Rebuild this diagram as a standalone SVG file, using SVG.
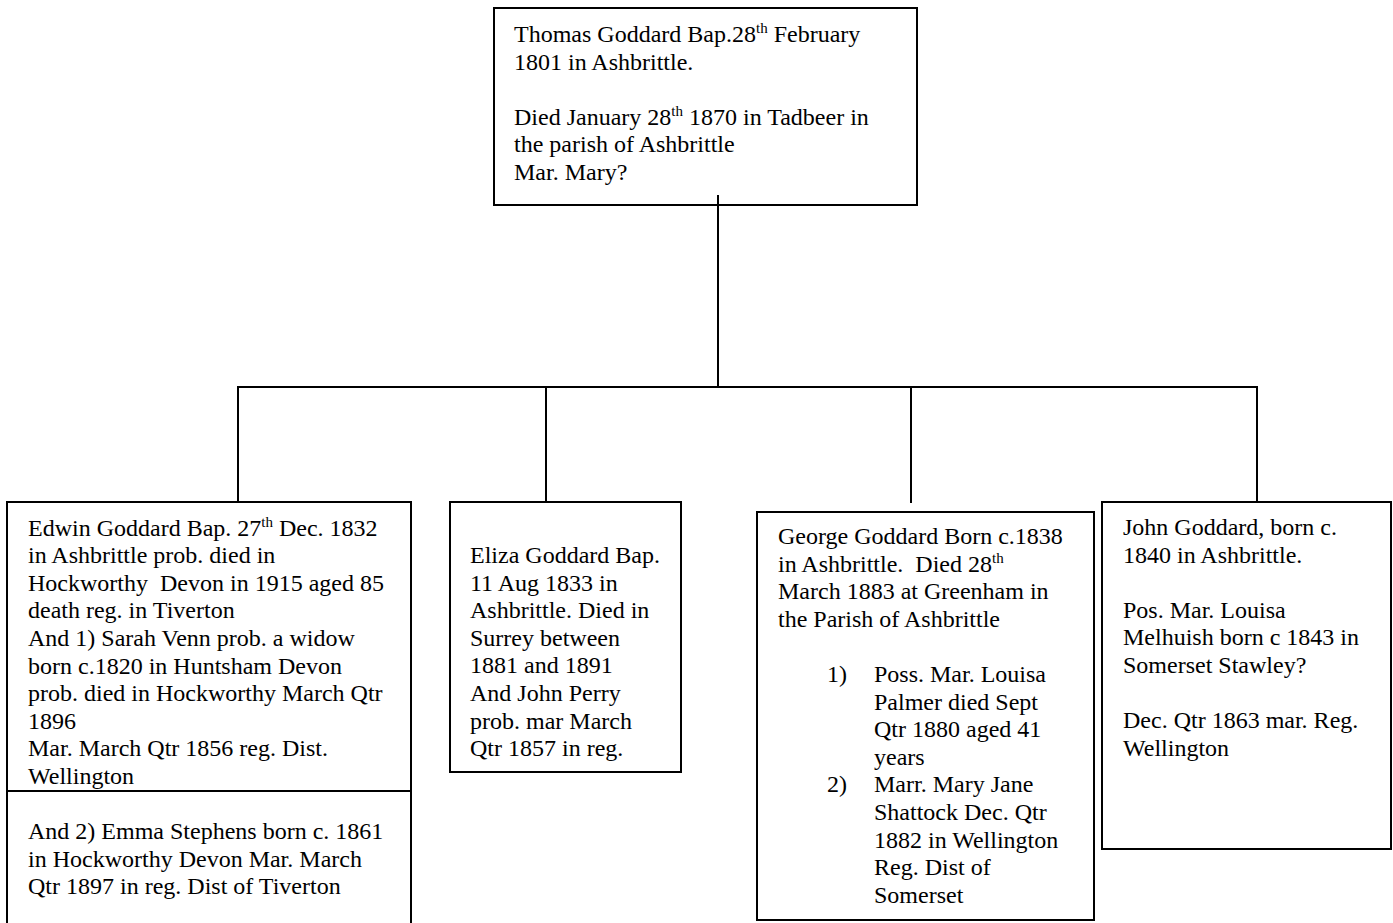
<svg xmlns="http://www.w3.org/2000/svg" width="1393" height="923" viewBox="0 0 1393 923">
<style>
.box{fill:#fff;stroke:#000;stroke-width:2}
.ln{stroke:#000;stroke-width:2;fill:none}
text{font-family:"Liberation Serif","Times New Roman",serif;font-size:24px;fill:#000}
.sup{font-size:15px}
</style>
<rect width="1393" height="923" fill="#fff"/>
<g id="thomas">
<rect class="box" x="494" y="8" width="423" height="197"/>
<text x="514" y="42">Thomas Goddard Bap.28<tspan class="sup" dy="-9">th</tspan><tspan dy="9"> February</tspan></text>
<text x="514" y="69.6">1801 in Ashbrittle.</text>
<text x="514" y="124.8">Died January 28<tspan class="sup" dy="-9">th</tspan><tspan dy="9"> 1870 in Tadbeer in</tspan></text>
<text x="514" y="152.4">the parish of Ashbrittle</text>
<text x="514" y="180">Mar. Mary?</text>
</g>
<g id="edwin">
<rect class="box" x="7" y="502" width="404" height="440"/>
<line class="ln" x1="7" y1="791" x2="411" y2="791"/>
<text x="28" y="535.6">Edwin Goddard Bap. 27<tspan class="sup" dy="-9">th</tspan><tspan dy="9"> Dec. 1832</tspan></text>
<text x="28" y="563.2">in Ashbrittle prob. died in</text>
<text x="28" y="590.8" xml:space="preserve">Hockworthy  Devon in 1915 aged 85</text>
<text x="28" y="618.4">death reg. in Tiverton</text>
<text x="28" y="646">And 1) Sarah Venn prob. a widow</text>
<text x="28" y="673.6">born c.1820 in Huntsham Devon</text>
<text x="28" y="701.2">prob. died in Hockworthy March Qtr</text>
<text x="28" y="728.8">1896</text>
<text x="28" y="756.4">Mar. March Qtr 1856 reg. Dist.</text>
<text x="28" y="784">Wellington</text>
<text x="28" y="839">And 2) Emma Stephens born c. 1861</text>
<text x="28" y="866.6">in Hockworthy Devon Mar. March</text>
<text x="28" y="894.2">Qtr 1897 in reg. Dist of Tiverton</text>
</g>
<g id="eliza">
<rect class="box" x="450" y="502" width="231" height="270"/>
<text x="470" y="563">Eliza Goddard Bap.</text>
<text x="470" y="590.6">11 Aug 1833 in</text>
<text x="470" y="618.2">Ashbrittle. Died in</text>
<text x="470" y="645.8">Surrey between</text>
<text x="470" y="673.4">1881 and 1891</text>
<text x="470" y="701">And John Perry</text>
<text x="470" y="728.6">prob. mar March</text>
<text x="470" y="756.2">Qtr 1857 in reg.</text>
</g>
<g id="george">
<rect class="box" x="757" y="512" width="337" height="408"/>
<text x="778" y="544">George Goddard Born c.1838</text>
<text x="778" y="571.6" xml:space="preserve">in Ashbrittle.  Died 28<tspan class="sup" dy="-9">th</tspan></text>
<text x="778" y="599.2">March 1883 at Greenham in</text>
<text x="778" y="626.8">the Parish of Ashbrittle</text>
<text x="827" y="682">1)</text>
<text x="874" y="682">Poss. Mar. Louisa</text>
<text x="874" y="709.6">Palmer died Sept</text>
<text x="874" y="737.2">Qtr 1880 aged 41</text>
<text x="874" y="764.8">years</text>
<text x="827" y="792.4">2)</text>
<text x="874" y="792.4">Marr. Mary Jane</text>
<text x="874" y="820">Shattock Dec. Qtr</text>
<text x="874" y="847.6">1882 in Wellington</text>
<text x="874" y="875.2">Reg. Dist of</text>
<text x="874" y="902.8">Somerset</text>
</g>
<g id="john">
<rect class="box" x="1102" y="502" width="289" height="347"/>
<text x="1123" y="535">John Goddard, born c.</text>
<text x="1123" y="562.6">1840 in Ashbrittle.</text>
<text x="1123" y="617.8">Pos. Mar. Louisa</text>
<text x="1123" y="645.4">Melhuish born c 1843 in</text>
<text x="1123" y="673">Somerset Stawley?</text>
<text x="1123" y="728.2">Dec. Qtr 1863 mar. Reg.</text>
<text x="1123" y="755.8">Wellington</text>
</g>
<g id="connectors">
<line class="ln" x1="718" y1="195" x2="718" y2="387"/>
<line class="ln" x1="237" y1="387" x2="1258" y2="387"/>
<line class="ln" x1="238" y1="387" x2="238" y2="502"/>
<line class="ln" x1="546" y1="387" x2="546" y2="502"/>
<line class="ln" x1="911" y1="387" x2="911" y2="503"/>
<line class="ln" x1="1257" y1="387" x2="1257" y2="502"/>
</g>
</svg>
